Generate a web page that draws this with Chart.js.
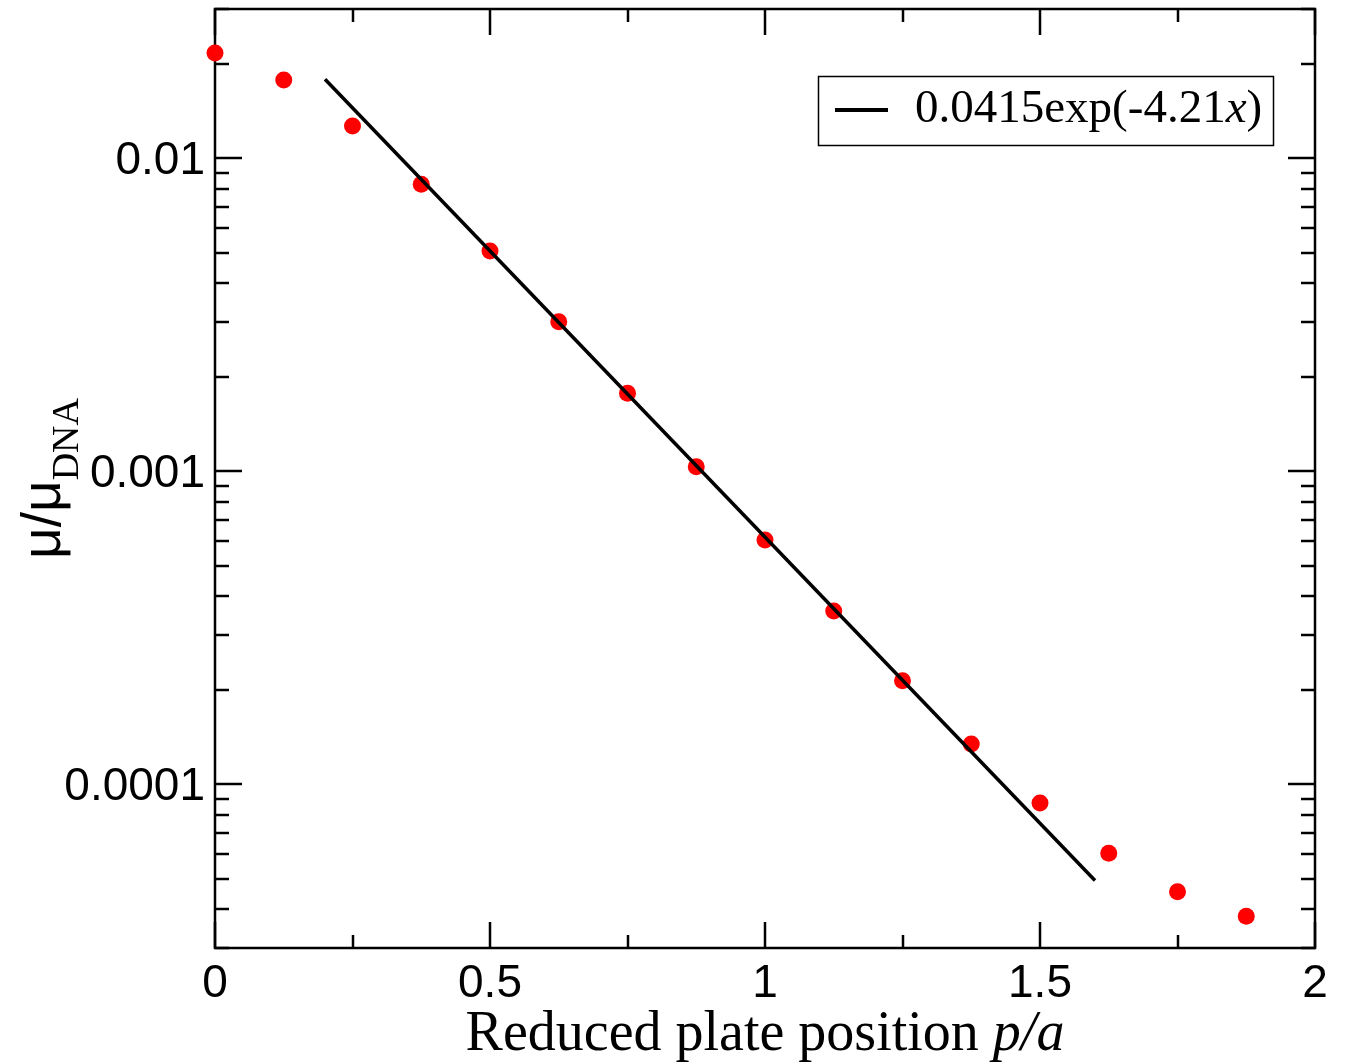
<!DOCTYPE html>
<html>
<head>
<meta charset="utf-8">
<script src="https://cdn.jsdelivr.net/npm/chart.js@4.4.1/dist/chart.umd.min.js"></script>
<style>
  html, body { margin: 0; padding: 0; background: #fff; }
  #wrap { width: 1346px; height: 1063px; }
</style>
</head>
<body>
<div id="wrap"><canvas id="chart" width="1346" height="1063"></canvas></div>
<script>
// measured points (p/a vs mu/mu_DNA)
const positions = [0, 0.125, 0.25, 0.375, 0.5, 0.625, 0.75, 0.875, 1.0, 1.125, 1.25, 1.375, 1.5, 1.625, 1.75, 1.875];
const mobility = [0.0217, 0.01779, 0.01268, 0.00826, 0.005056, 0.003006, 0.001775, 0.001034,
  0.000603, 0.000358, 0.0002143, 0.0001345, 0.0000872, 0.0000602, 0.0000454, 0.0000379];

// fit line 0.0415exp(-4.21x), end points as drawn
const fitX = [0.2, 1.6];
const fitY = [0.0179, 0.0000493];

const xMajorTicks = [0, 0.5, 1, 1.5, 2];
const xTickLabels = ["0", "0.5", "1", "1.5", "2"];
const xMinorTicks = [0.25, 0.75, 1.25, 1.75];
const yMajorTicks = [0.01, 0.001, 0.0001];
const yTickLabels = ["0.01", "0.001", "0.0001"];

const SANS = "'Liberation Sans', Arial, sans-serif";
const SERIF = "'Liberation Serif', 'Times New Roman', serif";

// minor ticks on the log axis: 2..9 of every decade inside the range
const yMinorTicks = [];
[0.00001, 0.0001, 0.001, 0.01].forEach(d => {
  for (let k = 2; k <= 9; k++) {
    const v = k * d;
    if (v >= 0.00003 && v <= 0.03) yMinorTicks.push(v);
  }
});

const framePlugin = {
  id: "frame",
  beforeDatasetsDraw(chart) {
    const { ctx, chartArea: a, scales } = chart;
    const xs = scales.x, ys = scales.y;
    ctx.save();
    ctx.strokeStyle = "#000";
    ctx.lineWidth = 2.5;
    ctx.strokeRect(a.left, a.top, a.right - a.left, a.bottom - a.top);

    const tick = (x1, y1, x2, y2) => {
      ctx.beginPath();
      ctx.moveTo(x1, y1);
      ctx.lineTo(x2, y2);
      ctx.stroke();
    };
    xMajorTicks.forEach(v => {
      const px = Math.round(xs.getPixelForValue(v));
      tick(px, a.bottom, px, a.bottom - 26);
      tick(px, a.top, px, a.top + 26);
    });
    xMinorTicks.forEach(v => {
      const px = Math.round(xs.getPixelForValue(v));
      tick(px, a.bottom, px, a.bottom - 13);
      tick(px, a.top, px, a.top + 13);
    });
    yMajorTicks.forEach(v => {
      const py = Math.round(ys.getPixelForValue(v));
      tick(a.left, py, a.left + 27, py);
      tick(a.right, py, a.right - 27, py);
    });
    yMinorTicks.forEach(v => {
      const py = Math.round(ys.getPixelForValue(v));
      tick(a.left, py, a.left + 14, py);
      tick(a.right, py, a.right - 14, py);
    });

    // tick labels
    ctx.fillStyle = "#000";
    ctx.font = "46px " + SANS;
    ctx.textAlign = "center";
    ctx.textBaseline = "alphabetic";
    xMajorTicks.forEach((v, i) => {
      ctx.fillText(xTickLabels[i], xs.getPixelForValue(v), 997);
    });
    ctx.textAlign = "right";
    yMajorTicks.forEach((v, i) => {
      ctx.fillText(yTickLabels[i], a.left - 10, ys.getPixelForValue(v) + 16);
    });

    // x title
    ctx.textAlign = "left";
    ctx.font = "56px " + SERIF;
    const t1 = "Reduced plate position ";
    const w1 = ctx.measureText(t1).width;
    ctx.font = "italic 56px " + SERIF;
    const t2 = "p/a";
    const w2 = ctx.measureText(t2).width;
    const cx = (a.left + a.right) / 2;
    let sx = cx - (w1 + w2) / 2;
    ctx.font = "56px " + SERIF;
    ctx.fillText(t1, sx, 1050);
    ctx.font = "italic 56px " + SERIF;
    ctx.fillText(t2, sx + w1, 1050);

    // y title, rotated
    ctx.save();
    ctx.translate(60, (a.top + a.bottom) / 2);
    ctx.rotate(-Math.PI / 2);
    ctx.font = "55px " + SANS;
    const m = "\u03bc/\u03bc";
    const wm = ctx.measureText(m).width;
    ctx.font = "38px " + SERIF;
    const sub = "DNA";
    const ws = ctx.measureText(sub).width;
    const start = -(wm + ws) / 2;
    ctx.font = "55px " + SANS;
    ctx.fillText(m, start, 0);
    ctx.font = "38px " + SERIF;
    ctx.fillText(sub, start + wm, 18);
    ctx.restore();

    ctx.restore();
  },
  afterDatasetsDraw(chart) {
    const { ctx } = chart;
    ctx.save();
    // legend box
    ctx.fillStyle = "#fff";
    ctx.fillRect(818, 76, 455, 69);
    ctx.strokeStyle = "#000";
    ctx.lineWidth = 1.5;
    ctx.strokeRect(818.5, 76.5, 455, 69);
    ctx.lineWidth = 4;
    ctx.beginPath();
    ctx.moveTo(835, 110);
    ctx.lineTo(888, 110);
    ctx.stroke();
    ctx.fillStyle = "#000";
    ctx.textAlign = "left";
    ctx.textBaseline = "alphabetic";
    ctx.font = "47px " + SERIF;
    let lx = 915;
    const p1 = "0.0415exp(-4.21";
    ctx.fillText(p1, lx, 122);
    lx += ctx.measureText(p1).width;
    ctx.font = "italic 47px " + SERIF;
    ctx.fillText("x", lx, 122);
    lx += ctx.measureText("x").width;
    ctx.font = "47px " + SERIF;
    ctx.fillText(")", lx, 122);
    ctx.restore();
  }
};

new Chart(document.getElementById("chart"), {
  type: "scatter",
  data: {
    datasets: [
      {
        label: "0.0415exp(-4.21x)",
        data: fitX.map((x, i) => ({ x: x, y: fitY[i] })),
        showLine: true,
        borderColor: "#000",
        borderWidth: 3.5,
        pointRadius: 0,
        fill: false,
        clip: false
      },
      {
        label: "data",
        data: positions.map((x, i) => ({ x: x, y: mobility[i] })),
        showLine: false,
        pointRadius: 8.5,
        pointBackgroundColor: "#ff0000",
        pointBorderColor: "#ff0000",
        pointBorderWidth: 0,
        clip: false
      }
    ]
  },
  options: {
    responsive: false,
    animation: false,
    layout: { padding: { left: 215, top: 9, right: 31, bottom: 115 } },
    plugins: {
      legend: { display: false },
      tooltip: { enabled: false }
    },
    scales: {
      x: { type: "linear", min: 0, max: 2, display: false },
      y: { type: "logarithmic", min: 0.00003, max: 0.03, display: false }
    }
  },
  plugins: [framePlugin]
});
</script>
</body>
</html>
